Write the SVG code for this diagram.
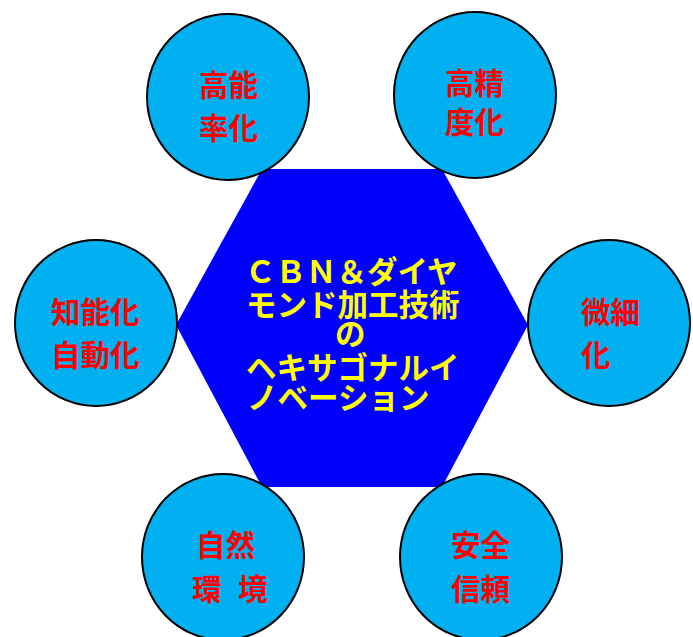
<svg xmlns="http://www.w3.org/2000/svg" width="693" height="637" viewBox="0 0 693 637">
<style>
.c{fill:#00B0F0;stroke:#000;stroke-width:2}
.r{fill:#FF0000;font-family:"Noto Sans CJK JP","Noto Sans CJK SC",sans-serif;font-weight:bold;font-size:29.5px}
.y{fill:#FFFF00;font-family:"Noto Sans CJK JP","Noto Sans CJK SC",sans-serif;font-weight:bold;font-size:30.5px}
</style>
<rect width="693" height="637" fill="#fff"/>
<g id="hexagon">
<polygon points="176,325 262,169 442,169 528,325 442,487 262,487" fill="#0000FF"/>
<text class="y"><tspan x="245" y="283">ＣＢＮ＆ダイヤ</tspan><tspan x="246" y="316">モンド加工技術</tspan><tspan x="335" y="345">の</tspan><tspan x="246" y="379">ヘキサゴナルイ</tspan><tspan x="247" y="409">ノベーション</tspan></text>
</g>
<g id="n-kounouritsu">
<ellipse class="c" cx="228" cy="97" rx="81" ry="83"/>
<text class="r"><tspan x="199" y="96">高能</tspan><tspan x="199" y="139">率化</tspan></text>
</g>
<g id="n-kouseido">
<ellipse class="c" cx="475" cy="95" rx="81" ry="83"/>
<text class="r"><tspan x="445" y="94">高精</tspan><tspan x="445" y="133">度化</tspan></text>
</g>
<g id="n-chinou">
<ellipse class="c" cx="96" cy="323" rx="81" ry="83"/>
<text class="r"><tspan x="51" y="323">知能化</tspan><tspan x="51" y="366">自動化</tspan></text>
</g>
<g id="n-bisai">
<ellipse class="c" cx="609" cy="323" rx="81" ry="83"/>
<text class="r"><tspan x="581" y="323">微細</tspan><tspan x="581" y="366">化</tspan></text>
</g>
<g id="n-shizen">
<ellipse class="c" cx="223" cy="557" rx="81" ry="83"/>
<text class="r"><tspan x="196" y="556">自然</tspan><tspan x="192" y="600">環</tspan><tspan x="238" y="600">境</tspan></text>
</g>
<g id="n-anzen">
<ellipse class="c" cx="481" cy="557" rx="81" ry="83"/>
<text class="r"><tspan x="451" y="556">安全</tspan><tspan x="451" y="600">信頼</tspan></text>
</g>
<g id="connectors"></g>
</svg>
